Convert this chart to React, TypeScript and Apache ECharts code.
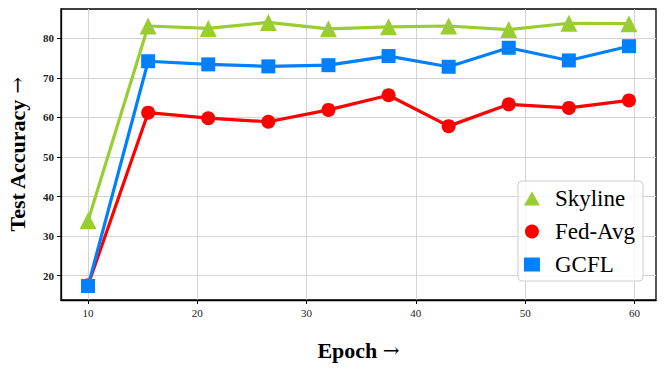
import React, { useEffect, useRef } from "react";
import * as echarts from "echarts";

const epochs = [10, 15.5, 21, 26.5, 32, 37.5, 43, 48.5, 54, 59.5];
const skyline = [33.9, 83.1, 82.5, 84.0, 82.4, 82.9, 83.1, 82.2, 83.8, 83.7];
const fedAvg = [17.6, 61.2, 59.8, 58.9, 61.9, 65.6, 57.8, 63.3, 62.4, 64.3];
const gcfl = [17.4, 74.2, 73.4, 72.9, 73.2, 75.5, 72.8, 77.6, 74.4, 78.0];
const xTicks = [10, 20, 30, 40, 50, 60];
const yTicks = [20, 30, 40, 50, 60, 70, 80];

const FONT = "Liberation Serif";

const nameStyle = {
  fontFamily: FONT,
  fontSize: 22,
  fontWeight: "bold",
  color: "#000",
  rich: {
    a: { fontFamily: FONT, fontSize: 22, fontWeight: "bold", color: "#000" },
    b: { fontFamily: "DejaVu Serif", fontSize: 20, fontWeight: "normal", color: "#000" },
  },
};

export default function App() {
  const ref = useRef<HTMLDivElement>(null);
  useEffect(() => {
    const chart = echarts.init(ref.current!, null, { renderer: "svg" });
    const pair = (ys: number[]) => epochs.map((x, i) => [x, ys[i]]);
    chart.setOption({
      animation: false,
      backgroundColor: "#ffffff",
      grid: {
        left: 61,
        right: 9,
        top: 9,
        bottom: 72,
        show: true,
        borderColor: "#000",
        borderWidth: 1.3,
        backgroundColor: "transparent",
        containLabel: false,
        outerBoundsMode: "none",
      },
      legend: {
        right: 22,
        top: 181,
        orient: "vertical",
        itemWidth: 16,
        itemHeight: 14,
        itemGap: 10,
        padding: [6, 8, 5, 6],
        backgroundColor: "rgba(255,255,255,0.8)",
        borderColor: "#cccccc",
        borderWidth: 1,
        borderRadius: 4,
        textStyle: { fontFamily: FONT, fontSize: 23, color: "#000", padding: [0, 0, 0, 10] },
        data: [
          { name: "Skyline", icon: "triangle" },
          { name: "Fed-Avg", icon: "circle" },
          { name: "GCFL", icon: "rect" },
        ],
      },
      xAxis: {
        type: "value",
        min: 7.525,
        max: 61.975,
        name: "{a|Epoch} {b|→}",
        nameLocation: "middle",
        nameGap: 39,
        nameTextStyle: nameStyle,
        axisLine: { show: true, lineStyle: { color: "#000", width: 1.3 } },
        axisTick: { show: true, length: 4, customValues: xTicks, lineStyle: { color: "#000" } },
        axisLabel: {
          customValues: xTicks,
          fontFamily: FONT,
          fontSize: 11,
          color: "#222",
          margin: 7,
        },
        splitLine: { show: true, lineStyle: { color: "#d3d3d3", width: 1 } },
      },
      yAxis: {
        type: "value",
        min: 13.86,
        max: 87.4,
        name: "{a|Test Accuracy} {b|→}",
        nameLocation: "middle",
        nameGap: 33,
        nameTextStyle: nameStyle,
        axisLine: { show: true, lineStyle: { color: "#000", width: 1.3 } },
        axisTick: { show: true, length: 4, customValues: yTicks, lineStyle: { color: "#000" } },
        axisLabel: {
          customValues: yTicks,
          fontFamily: FONT,
          fontSize: 11,
          fontWeight: "bold",
          color: "#222",
          margin: 7,
        },
        splitLine: { show: true, lineStyle: { color: "#d3d3d3", width: 1 } },
      },
      series: [
        {
          name: "Skyline",
          type: "line",
          data: pair(skyline),
          symbol: "triangle",
          symbolSize: 17,
          color: "#9acd32",
          lineStyle: { width: 3.2, color: "#9acd32" },
          itemStyle: { color: "#9acd32" },
          z: 2,
        },
        {
          name: "Fed-Avg",
          type: "line",
          data: pair(fedAvg),
          symbol: "circle",
          symbolSize: 14,
          color: "#ff0000",
          lineStyle: { width: 3.2, color: "#ff0000" },
          itemStyle: { color: "#ff0000" },
          z: 3,
        },
        {
          name: "GCFL",
          type: "line",
          data: pair(gcfl),
          symbol: "rect",
          symbolSize: 14,
          color: "#0080ff",
          lineStyle: { width: 3.2, color: "#0080ff" },
          itemStyle: { color: "#0080ff" },
          z: 4,
        },
      ],
    });
    return () => chart.dispose();
  }, []);
  return <div ref={ref} style={{ width: 665, height: 372, position: "absolute", left: 0, top: 0 }} />;
}
